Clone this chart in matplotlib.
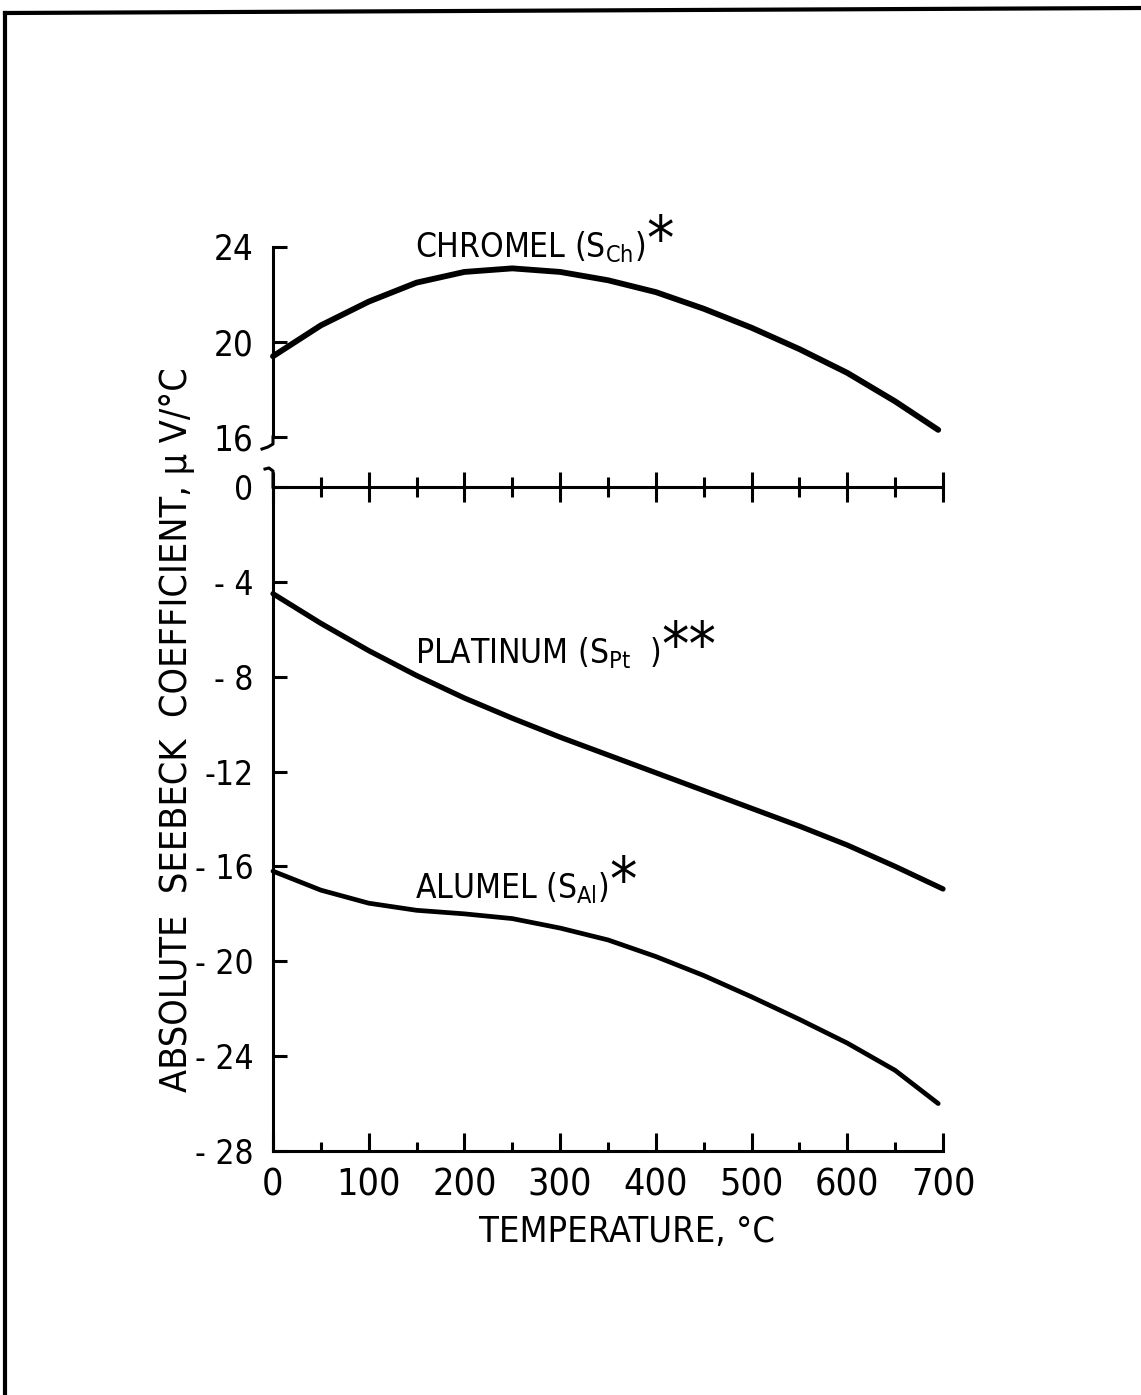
import matplotlib.pyplot as plt
from matplotlib.lines import Line2D

# data
temp = [0, 50, 100, 150, 200, 250, 300, 350, 400, 450, 500, 550, 600, 650, 695]
temp_pt = [0, 50, 100, 150, 200, 250, 300, 350, 400, 450, 500, 550, 600, 650, 700]
chromel = [19.4, 20.7, 21.7, 22.5, 22.95, 23.1, 22.95, 22.6, 22.1, 21.4, 20.6, 19.7, 18.7, 17.5, 16.3]
platinum = [-4.5, -5.75, -6.9, -7.95, -8.9, -9.75, -10.55, -11.3, -12.05, -12.8, -13.55, -14.3, -15.1, -16.0, -16.95]
alumel = [-16.2, -17.0, -17.55, -17.85, -18.0, -18.2, -18.6, -19.1, -19.8, -20.6, -21.5, -22.45, -23.45, -24.6, -26.0]

x_ticks = [0, 100, 200, 300, 400, 500, 600, 700]
x_minor = [50, 150, 250, 350, 450, 550, 650]
upper_ticks = [16, 20, 24]
upper_labels = ["16", "20", "24"]
lower_ticks = [0, -4, -8, -12, -16, -20, -24, -28]
lower_labels = ["0", "- 4", "- 8", "-12", "- 16", "- 20", "- 24", "- 28"]

W, H = 1141, 1395
plt.rcParams['font.family'] = ['DejaVu Sans']
plt.rcParams['font.stretch'] = 'condensed'
plt.rcParams['mathtext.default'] = 'regular'


def fx(x):
    return x / W


def fy(y):
    return 1 - y / H


fig = plt.figure(figsize=(W / 100, H / 100), dpi=100)

x0, x1 = 273, 943
lo_top, lo_bot = 487, 1151
up_top, up_bot = 247, 437

ax_lo = fig.add_axes([fx(x0), fy(lo_bot), fx(x1) - fx(x0), fy(lo_top) - fy(lo_bot)])
ax_up = fig.add_axes([fx(x0), fy(up_bot), fx(x1) - fx(x0), fy(up_top) - fy(up_bot)])

lw_axis = 2.2
for ax in (ax_lo, ax_up):
    ax.set_xlim(0, 700)
    ax.spines['top'].set_visible(False)
    ax.spines['right'].set_visible(False)
    ax.spines['left'].set_linewidth(lw_axis)
    ax.spines['bottom'].set_linewidth(lw_axis)
    ax.patch.set_alpha(0)

# upper panel (chromel)
ax_up.set_ylim(16, 24)
ax_up.spines['bottom'].set_visible(False)
ax_up.set_xticks([])
ax_up.set_yticks(upper_ticks)
ax_up.set_yticklabels(upper_labels)
ax_up.tick_params(axis='y', direction='in', length=10, width=lw_axis, pad=14, labelsize=25)
ax_up.plot(temp, chromel, color='black', lw=4.2, solid_capstyle='round', clip_on=False)

# lower panel
ax_lo.set_ylim(-28, 0)
ax_lo.set_yticks(lower_ticks)
ax_lo.set_yticklabels(lower_labels)
ax_lo.tick_params(axis='y', direction='in', length=10, width=lw_axis, pad=14, labelsize=24)
ax_lo.set_xticks(x_ticks)
ax_lo.set_xticks(x_minor, minor=True)
ax_lo.tick_params(axis='x', which='major', direction='in', length=13, width=lw_axis, pad=12, labelsize=27)
ax_lo.tick_params(axis='x', which='minor', direction='in', length=6.5, width=lw_axis)
ax_lo.plot(temp_pt, platinum, color='black', lw=3.8, solid_capstyle='round', clip_on=False)
ax_lo.plot(temp, alumel, color='black', lw=3.4, solid_capstyle='round', clip_on=False)

# zero line with crossing ticks
zero = ax_lo.secondary_xaxis('top')
zero.spines['top'].set_linewidth(lw_axis)
zero.set_xticks(x_ticks)
zero.set_xticks(x_minor, minor=True)
zero.tick_params(axis='x', which='major', direction='inout', length=21, width=lw_axis, labeltop=False)
zero.tick_params(axis='x', which='minor', direction='inout', length=14, width=lw_axis, labeltop=False)

# axis break marks
fig.add_artist(Line2D([fx(273), fx(273), fx(268), fx(262)],
                      [fy(437), fy(444), fy(447), fy(449)], color='black', lw=lw_axis))
fig.add_artist(Line2D([fx(273), fx(273), fx(269), fx(265)],
                      [fy(487), fy(471), fy(468), fy(469)], color='black', lw=lw_axis))

# curve labels, with the asterisks hung off the end of each label
labels = [
    (ax_up, 148, 24.0, "CHROMEL (S$_{Ch}$)", "*"),
    (ax_lo, 148, -7.0, "PLATINUM (S$_{Pt}$  )", "**"),
    (ax_lo, 148, -16.9, "ALUMEL (S$_{Al}$)", "*"),
]
for ax, lx, ly, name, star in labels:
    t = ax.text(lx, ly, name, fontsize=24, va='center', ha='left', clip_on=False)
    ax.annotate(star, xy=(1.0, 0.62), xycoords=t, xytext=(1, 0), textcoords='offset points',
                fontsize=44, va='center', ha='left')

# axis titles
fig.text(fx(177), fy(730), "ABSOLUTE  SEEBECK  COEFFICIENT, \u03bc V/\u00b0C",
         rotation=90, ha='center', va='center', fontsize=27)
fig.text(fx(627), fy(1232), "TEMPERATURE, \u00b0C", ha='center', va='center', fontsize=26)

# page frame
fig.add_artist(Line2D([fx(5), fx(5)], [fy(1395), fy(13)], color='black', lw=3))
fig.add_artist(Line2D([fx(5), fx(1141)], [fy(13), fy(8)], color='black', lw=3))

fig.savefig("out.png", dpi=100, facecolor='white')
